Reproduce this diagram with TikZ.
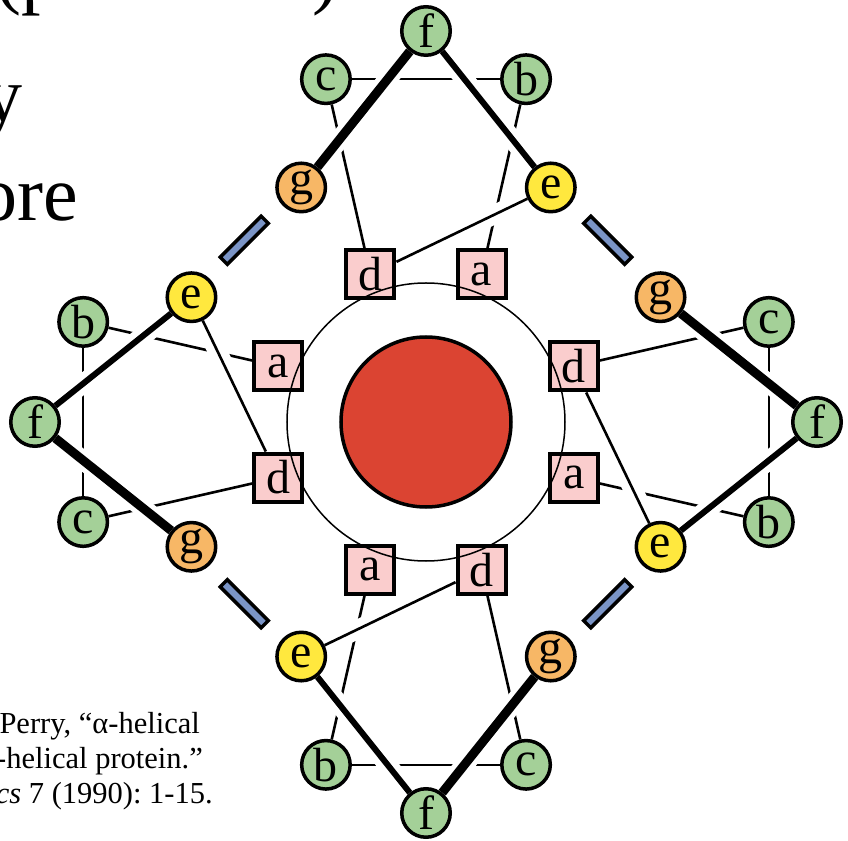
\documentclass[tikz,border=0pt]{standalone}
\usepackage{fontspec}
\setmainfont{Liberation Serif}
\frenchspacing
\definecolor{grn}{RGB}{164,208,152}
\definecolor{org}{RGB}{247,183,102}
\definecolor{yel}{RGB}{255,232,62}
\definecolor{pnk}{RGB}{250,205,205}
\definecolor{redc}{RGB}{219,68,50}
\definecolor{blu}{RGB}{122,148,198}
\pgfdeclarelayer{thinlayer}
\pgfdeclarelayer{midlayer}
\pgfdeclarelayer{thicklayer}
\pgfdeclarelayer{toplayer}
\pgfsetlayers{thinlayer,midlayer,thicklayer,main,toplayer}
\begin{document}
\begin{tikzpicture}[x=1pt,y=1pt,
  res/.style={circle, draw, line width=3.5pt, minimum size=48.5pt, inner sep=0pt, font=\fontsize{48}{48}\selectfont},
  gres/.style={res, fill=grn},
  ores/.style={res, fill=org},
  yres/.style={res, fill=yel},
  core/.style={rectangle, draw, line width=4pt, fill=pnk, minimum size=48pt, inner sep=0pt, font=\fontsize{48}{48}\selectfont},
  thinl/.style={line width=2.6pt},
  halo/.style={white, line width=19pt},
  bar/.style={rectangle, draw, line width=3.5pt, fill=blu, minimum width=58pt, minimum height=10pt, inner sep=0pt},
  bigtext/.style={inner sep=0pt, font=\fontsize{78}{78}\selectfont},
  cite/.style={inner sep=0pt, anchor=base east, font=\fontsize{30.5}{30.5}\selectfont}]
\useasboundingbox (-426,-418) rectangle (422,422);

% slide text
\node[bigtext, anchor=base west] (t1a) at (-431,422) {(p};
\node[bigtext, anchor=base west] (t1b) at (-114,422) {)};
\node[bigtext, anchor=base east] (t2) at (-403,300) {y};
\node[bigtext, anchor=base east] (t3) at (-348,201) {ore};
\node[cite] (c1) at (-226,-311) {Perry, “α-helical};
\node[cite] (c2) at (-223,-346) {-helical protein.”};
\node[cite] (c3) at (-213,-381) {\textit{cs} 7 (1990): 1-15.};

% core
\node[circle, draw, line width=3.5pt, fill=redc, minimum size=170pt, inner sep=0pt] (core) at (0,0) {};
\begin{pgfonlayer}{toplayer}
\node[circle, draw, line width=1.5pt, minimum size=278pt, inner sep=0pt] (ring) at (0,0) {};
\end{pgfonlayer}

% bars
\foreach \t/\n in {45/NE,135/NW,225/SW,315/SE}{
  \node[bar, rotate=\t+90] (bar\n) at (\t:257) {};
}

% heptads
\foreach \r/\s in {0/T,-90/R,180/B,90/L}{
  \begin{scope}[rotate=\r]
    \node[gres] (f\s) at (0,391) {f};
    \node[gres] (b\s) at (100.07,342.81) {b};
    \node[yres] (e\s) at (124.79,234.52) {e};
    \node[core] (a\s) at (55.54,147.68) {a};
    \node[core] (d\s) at (-55.54,147.68) {d};
    \node[ores] (g\s) at (-124.79,234.52) {g};
    \node[gres] (c\s) at (-100.07,342.81) {c};
  \end{scope}
  \begin{pgfonlayer}{thinlayer}
    \draw[thinl] (c\s) -- (b\s);
    \draw[thinl] (c\s) -- (d\s);
    \draw[thinl] (b\s) -- (a\s);
  \end{pgfonlayer}
  \begin{pgfonlayer}{midlayer}
    \draw[halo] (e\s) -- (d\s);
    \draw[thinl] (e\s) -- (d\s);
  \end{pgfonlayer}
  \begin{pgfonlayer}{thicklayer}
    \draw[halo] (f\s) -- (g\s);
    \draw[line width=9pt] (f\s) -- (g\s);
    \draw[halo] (f\s) -- (e\s);
    \draw[line width=6pt] (f\s) -- (e\s);
  \end{pgfonlayer}
}
\end{tikzpicture}
\end{document}
